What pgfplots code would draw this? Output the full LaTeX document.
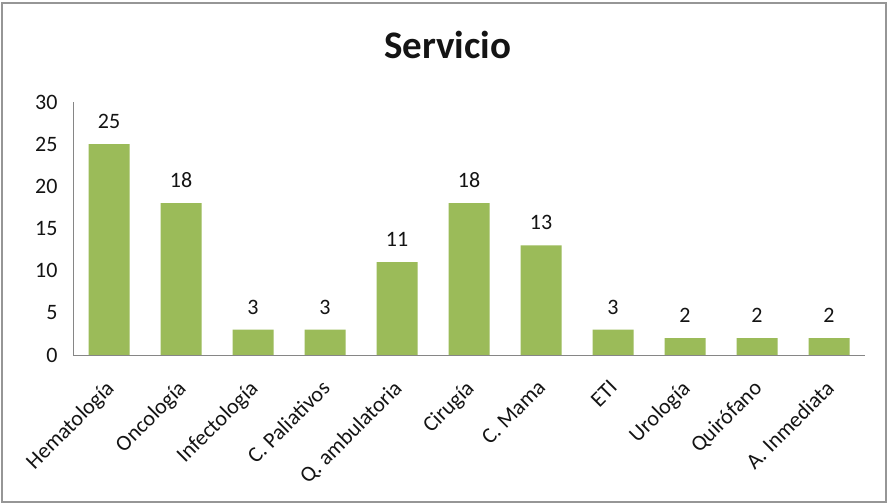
\documentclass[border=0pt]{standalone}
\usepackage{pgfplots}
\pgfplotsset{compat=1.18}
\usepackage{fontspec}
\setmainfont{Carlito}
\definecolor{bargreen}{RGB}{155,187,89}
\definecolor{axisgray}{RGB}{134,134,134}
\definecolor{framegray}{RGB}{150,150,150}
\definecolor{txt}{RGB}{20,20,20}
\begin{document}
\begin{tikzpicture}
\useasboundingbox (0,0) rectangle (888bp,504bp);
\fill[white] (0,0) rectangle (888bp,504bp);
\draw[framegray, line width=1.2bp] (2bp,2bp) rectangle (886bp,501bp);
\begin{axis}[
  at={(73bp,149bp)}, anchor=south west,
  scale only axis,
  width=792bp, height=253bp,
  xmin=-0.5, xmax=10.5,
  ymin=0, ymax=30,
  ytick={0,5,...,30},
  xtick=data,
  xticklabels={Hematología,Oncología,Infectología,C. Paliativos,Q. ambulatoria,Cirugía,C. Mama,ETI,Urología,Quirófano,A. Inmediata},
  major tick length=0pt,
  axis x line*=bottom,
  axis y line*=left,
  axis line style={axisgray, line width=1bp},
  /pgf/number format/assume math mode=true,
  tick label style={font=\fontsize{22bp}{26bp}\selectfont, text=txt},
  yticklabel style={xshift=-12bp},
  % shifts below act in the rotated frame of the label
  xticklabel style={rotate=45, anchor=north east, inner sep=0pt, xshift=-20bp, yshift=-13.5bp},
  title={Servicio},
  title style={font=\fontsize{39bp}{44bp}\selectfont\bfseries, text=txt, anchor=base, at={(axis description cs:0.473,1)}, yshift=38bp},
  ybar, bar width=41bp,
  nodes near coords,
  every node near coord/.append style={font=\fontsize{22bp}{26bp}\selectfont, text=txt, yshift=12bp},
]
\addplot[fill=bargreen, draw=none] coordinates {
  (0,25) (1,18) (2,3) (3,3) (4,11) (5,18) (6,13) (7,3) (8,2) (9,2) (10,2)
};
\end{axis}
\end{tikzpicture}
\end{document}
